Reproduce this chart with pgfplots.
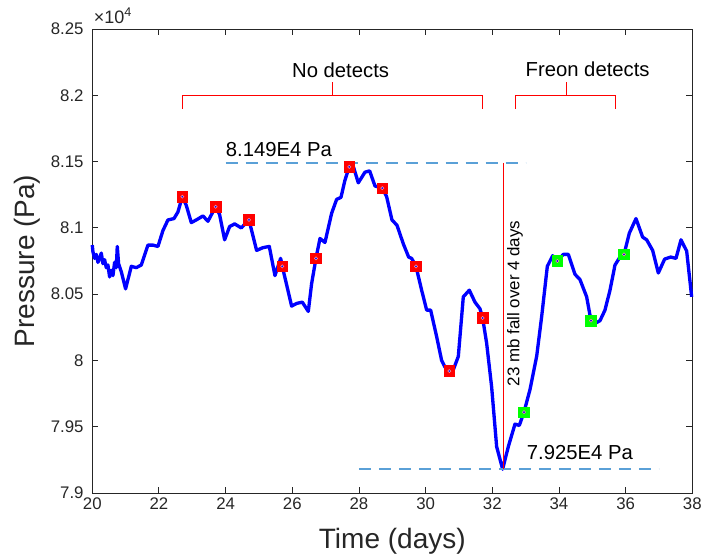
\documentclass[border=0pt]{standalone}
\usepackage{fontspec}
\setmainfont{Liberation Sans}
\usepackage{pgfplots}
\pgfplotsset{compat=1.18}
\definecolor{mlblue}{RGB}{0,0,255}
\definecolor{dashblue}{RGB}{90,160,215}
\definecolor{axgray}{RGB}{38,38,38}
\definecolor{mlgreen}{RGB}{0,255,0}
\definecolor{mlred}{RGB}{255,0,0}

\begin{document}
\begin{tikzpicture}
\begin{axis}[
  scale only axis, width=450pt, height=348pt,
  xmin=20, xmax=38, ymin=7.9, ymax=8.25,
  xtick={20,22,...,38},
  xticklabels={20,22,24,26,28,30,32,34,36,38},
  ytick={7.9,7.95,8,8.05,8.1,8.15,8.2,8.25},
  yticklabels={7.9,7.95,8,8.05,8.1,8.15,8.2,8.25},
  tick align=inside, major tick length=4.5pt,
  axis line style={axgray, line width=0.7pt},
  every tick/.style={axgray, line width=0.7pt},
  tick label style={font=\fontsize{12.6}{14}\selectfont, text=axgray},
  yticklabel style={xshift=-3pt},
  xlabel={Time (days)}, ylabel={Pressure (Pa)},
  label style={font=\fontsize{21}{24}\selectfont, text=axgray},
  xlabel style={at={(axis description cs:0.5,-0.104)}, anchor=center},
  ylabel style={at={(axis description cs:-0.108,0.5)}, anchor=center},
  clip=false,
]
% pressure record
\addplot[mlblue, line width=2.5pt, line join=round] coordinates {
(20.00,8.087)(20.02,8.082)(20.07,8.077)(20.12,8.080)(20.17,8.074)(20.22,8.077)(20.27,8.081)(20.32,8.073)(20.37,8.076)(20.42,8.070)(20.47,8.072)(20.52,8.063)(20.57,8.068)(20.62,8.064)(20.67,8.074)(20.72,8.070)(20.75,8.086)(20.79,8.073)(20.87,8.067)(21.00,8.054)(21.17,8.071)(21.32,8.070)(21.47,8.072)(21.67,8.087)(21.82,8.087)(21.97,8.086)(22.12,8.098)(22.27,8.106)(22.45,8.107)(22.57,8.112)(22.70,8.1235)(22.82,8.117)(22.97,8.104)(23.12,8.106)(23.32,8.109)(23.47,8.105)(23.70,8.116)(23.82,8.110)(23.97,8.091)(24.12,8.101)(24.27,8.103)(24.47,8.100)(24.70,8.106)(24.93,8.083)(25.11,8.085)(25.31,8.086)(25.48,8.064)(25.65,8.077)(25.70,8.071)(25.98,8.041)(26.13,8.043)(26.30,8.044)(26.48,8.037)(26.58,8.058)(26.71,8.077)(26.83,8.092)(26.98,8.089)(27.18,8.111)(27.33,8.1215)(27.46,8.123)(27.58,8.136)(27.71,8.146)(27.81,8.148)(27.98,8.134)(28.18,8.142)(28.32,8.143)(28.48,8.1316)(28.70,8.130)(28.83,8.1235)(28.99,8.106)(29.14,8.102)(29.33,8.088)(29.49,8.078)(29.58,8.077)(29.71,8.071)(29.88,8.053)(30.03,8.038)(30.15,8.038)(30.33,8.018)(30.48,8.000)(30.58,7.995)(30.71,7.992)(30.83,7.993)(30.98,8.003)(31.13,8.048)(31.31,8.053)(31.48,8.044)(31.63,8.039)(31.71,8.032)(31.83,8.013)(31.98,7.980)(32.13,7.935)(32.31,7.918)(32.48,7.935)(32.68,7.952)(32.81,7.951)(32.95,7.961)(33.13,7.978)(33.33,8.003)(33.48,8.033)(33.65,8.071)(33.81,8.079)(33.95,8.075)(34.13,8.080)(34.28,8.080)(34.48,8.065)(34.63,8.061)(34.83,8.048)(34.96,8.030)(35.01,8.027)(35.23,8.030)(35.38,8.038)(35.53,8.053)(35.68,8.072)(35.83,8.078)(35.95,8.080)(36.11,8.096)(36.31,8.107)(36.51,8.093)(36.63,8.091)(36.81,8.083)(36.98,8.066)(37.17,8.0765)(37.35,8.078)(37.51,8.077)(37.66,8.091)(37.83,8.0825)(37.98,8.048)
};
% detection markers
\addplot[only marks, mark=square*, mark size=4pt, mark options={fill=mlred, draw=mlred}] coordinates {
(22.70,8.1235)(23.70,8.116)(24.70,8.106)(25.70,8.071)(26.71,8.077)(27.71,8.146)(28.70,8.130)(29.71,8.071)(30.71,7.992)(31.71,8.032)
};
\addplot[only marks, mark=square*, mark size=4pt, mark options={fill=mlgreen, draw=mlgreen}] coordinates {
(32.95,7.961)(33.95,8.075)(34.96,8.030)(35.95,8.080)
};
\addplot[only marks, mark=*, mark size=1.2pt, mark options={fill=blue, draw=white!60!red, line width=0.4pt}] coordinates {
(22.70,8.1235)(23.70,8.116)(24.70,8.106)(25.70,8.071)(26.71,8.077)(27.71,8.146)(28.70,8.130)(29.71,8.071)(30.71,7.992)(31.71,8.032)
(32.95,7.961)(33.95,8.075)(34.96,8.030)(35.95,8.080)
};
% max / min reference lines
\addplot[dashblue, line width=1.1pt, dash pattern=on 9pt off 6pt] coordinates {(24,8.149) (33,8.149)};
\addplot[dashblue, line width=1.1pt, dash pattern=on 9pt off 6pt] coordinates {(28,7.918) (37,7.918)};
\addplot[mlred, line width=0.9pt] coordinates {(32.33,8.149) (32.33,7.918)};
% brackets
\addplot[mlred, line width=0.7pt] coordinates {(22.7,8.19) (22.7,8.2) (31.71,8.2) (31.71,8.19)};
\addplot[mlred, line width=0.7pt] coordinates {(27.2,8.2) (27.2,8.21)};
\addplot[mlred, line width=0.7pt] coordinates {(32.7,8.19) (32.7,8.2) (35.7,8.2) (35.7,8.19)};
\addplot[mlred, line width=0.7pt] coordinates {(34.21,8.2) (34.21,8.21)};

\node[font=\fontsize{15.2}{18}\selectfont] at (axis cs:27.45,8.219) {No detects};
\node[font=\fontsize{15.2}{18}\selectfont] at (axis cs:34.86,8.220) {Freon detects};
\node[font=\fontsize{15.2}{18}\selectfont, anchor=base west, inner sep=0pt] at (axis cs:24.0,8.1542) {8.149E4 Pa};
\node[font=\fontsize{15.2}{18}\selectfont, anchor=base west, inner sep=0pt] at (axis cs:33.03,7.925) {7.925E4 Pa};
\node[font=\fontsize{12.7}{15}\selectfont, rotate=90] at (axis cs:32.68,8.043) {23 mb fall over 4 days};
\node[font=\fontsize{13.5}{15}\selectfont, text=axgray, anchor=base west, inner sep=0pt] at ([xshift=1pt,yshift=4pt]rel axis cs:0,1) {×10\textsuperscript{4}};
\end{axis}
\pgfresetboundingbox
\path[use as bounding box] (-69.2pt,-48.75pt) rectangle (456.5pt,369.75pt);
\end{tikzpicture}
\end{document}
